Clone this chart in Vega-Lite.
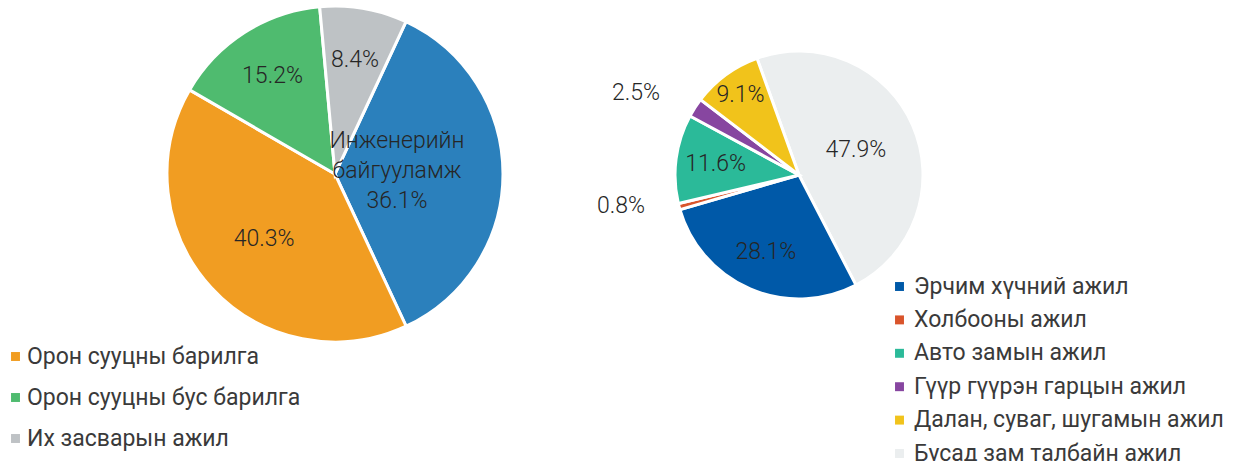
{
  "$schema": "https://vega.github.io/schema/vega-lite/v6.json",
  "padding": 0,
  "background": "white",
  "spacing": 0,
  "bounds": "flush",
  "config": {
    "view": {"stroke": null},
    "font": "Roboto",
    "legend": {
      "title": null,
      "symbolType": "square",
      "symbolSize": 80,
      "symbolStrokeWidth": 0,
      "labelFont": "Roboto",
      "labelFontSize": 23,
      "labelColor": "#3a3a3a",
      "labelLimit": 400,
      "padding": 0
    }
  },
  "resolve": {"scale": {"color": "independent", "theta": "independent"}},
  "hconcat": [
    {
      "width": 670,
      "height": 346,
      "data": {"values": [
        {"cat": "Инженерийн байгууламж", "share": 36.1, "idx": 1, "label": "Инженерийн\nбайгууламж\n36.1%"},
        {"cat": "Орон сууцны барилга", "share": 40.3, "idx": 2, "label": "40.3%"},
        {"cat": "Орон сууцны бус барилга", "share": 15.2, "idx": 3, "label": "15.2%"},
        {"cat": "Их засварын ажил", "share": 8.4, "idx": 4, "label": "8.4%"}
      ]},
      "encoding": {
        "theta": {"field": "share", "type": "quantitative", "stack": true, "scale": {"range": [0.4363, 6.7195]}},
        "order": {"field": "idx", "type": "quantitative"},
        "detail": {"field": "cat"}
      },
      "layer": [
        {
          "mark": {"type": "arc", "outerRadius": 168, "stroke": "white", "strokeWidth": 3},
          "encoding": {
            "color": {
              "field": "cat", "type": "nominal",
              "scale": {
                "domain": ["Инженерийн байгууламж", "Орон сууцны барилга", "Орон сууцны бус барилга", "Их засварын ажил"],
                "range": ["#2B80BC", "#F19D22", "#4FBB6F", "#BEC2C5"]
              },
              "legend": {
                "orient": "none", "legendX": 4, "legendY": 344,
                "values": ["Орон сууцны барилга", "Орон сууцны бус барилга", "Их засварын ажил"],
                "rowPadding": 17, "labelOffset": 0
              }
            }
          }
        },
        {
          "mark": {"type": "text", "radius": 62, "dy": -33, "fontSize": 23, "fontWeight": 300, "lineBreak": "\n", "lineHeight": 30, "color": "#262626"},
          "encoding": {"text": {"condition": {"test": "datum.idx == 1", "field": "label"}, "value": ""}}
        },
        {
          "mark": {"type": "text", "radius": 96, "fontSize": 23, "fontWeight": 300, "color": "#262626"},
          "encoding": {"text": {"condition": {"test": "datum.idx == 2", "field": "label"}, "value": ""}}
        },
        {
          "mark": {"type": "text", "radius": 116, "fontSize": 23, "fontWeight": 300, "color": "#262626"},
          "encoding": {"text": {"condition": {"test": "datum.idx >= 3", "field": "label"}, "value": ""}}
        }
      ]
    },
    {
      "width": 258,
      "height": 348,
      "data": {"values": [
        {"cat": "Бусад зам талбайн ажил", "share": 47.9, "idx": 1, "label": "47.9%"},
        {"cat": "Эрчим хүчний ажил", "share": 28.1, "idx": 2, "label": "28.1%"},
        {"cat": "Холбооны ажил", "share": 0.8, "idx": 3, "label": "0.8%"},
        {"cat": "Авто замын ажил", "share": 11.6, "idx": 4, "label": "11.6%"},
        {"cat": "Гүүр гүүрэн гарцын ажил", "share": 2.5, "idx": 5, "label": "2.5%"},
        {"cat": "Далан, суваг, шугамын ажил", "share": 9.1, "idx": 6, "label": "9.1%"}
      ]},
      "encoding": {
        "theta": {"field": "share", "type": "quantitative", "stack": true, "scale": {"range": [-0.3456, 5.9376]}},
        "order": {"field": "idx", "type": "quantitative"},
        "detail": {"field": "cat"}
      },
      "layer": [
        {
          "mark": {"type": "arc", "outerRadius": 124, "stroke": "white", "strokeWidth": 3},
          "encoding": {
            "color": {
              "field": "cat", "type": "nominal",
              "scale": {
                "domain": ["Эрчим хүчний ажил", "Холбооны ажил", "Авто замын ажил", "Гүүр гүүрэн гарцын ажил", "Далан, суваг, шугамын ажил", "Бусад зам талбайн ажил"],
                "range": ["#0059A8", "#D9542B", "#2BBA99", "#8746A0", "#F1C31B", "#EBEEEF"]
              },
              "legend": {"orient": "none", "legendX": 218, "legendY": 274, "rowPadding": 9.4, "labelOffset": 3}
            }
          }
        },
        {
          "mark": {"type": "text", "radius": 62, "fontSize": 23, "fontWeight": 300, "color": "#262626"},
          "encoding": {"text": {"condition": {"test": "datum.share > 40", "field": "label"}, "value": ""}}
        },
        {
          "mark": {"type": "text", "radius": 84, "fontSize": 23, "fontWeight": 300, "color": "#262626"},
          "encoding": {"text": {"condition": {"test": "datum.share > 10 && datum.share < 40", "field": "label"}, "value": ""}}
        },
        {
          "mark": {"type": "text", "radius": 99, "fontSize": 23, "fontWeight": 300, "color": "#262626"},
          "encoding": {"text": {"condition": {"test": "datum.share > 5 && datum.share < 10", "field": "label"}, "value": ""}}
        },
        {
          "mark": {"type": "text", "radius": 181, "dx": -11, "dy": 16, "fontSize": 23, "fontWeight": 300, "color": "#262626"},
          "encoding": {"text": {"condition": {"test": "datum.share > 2 && datum.share < 5", "field": "label"}, "value": ""}}
        },
        {
          "mark": {"type": "text", "radius": 181, "dx": -3, "dy": -15, "fontSize": 23, "fontWeight": 300, "color": "#262626"},
          "encoding": {"text": {"condition": {"test": "datum.share < 2", "field": "label"}, "value": ""}}
        }
      ]
    }
  ]
}
